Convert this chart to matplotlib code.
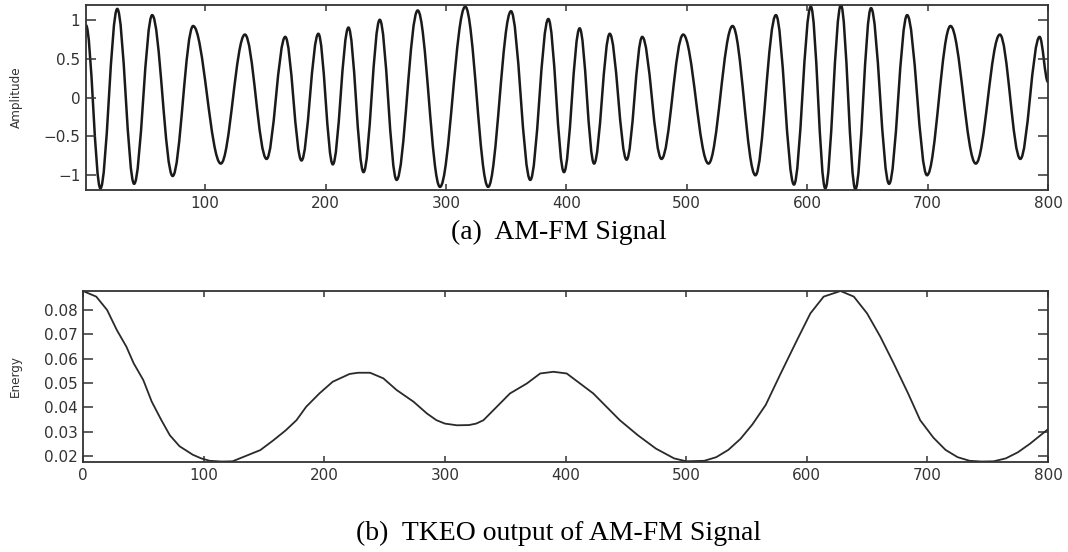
import matplotlib
matplotlib.use('Agg')
import matplotlib.pyplot as plt
from matplotlib.path import Path
from matplotlib.patches import PathPatch

# AM-FM signal: peaks and troughs (sample index, amplitude)
sig_x = [1, 13, 27, 41, 56, 73, 90, 113, 133, 151,
         166.5, 180, 194, 206, 219, 231.5, 245, 259, 276.5, 295,
         316, 335, 354, 370, 385, 398, 411, 423, 436, 450,
         463, 479, 497, 518, 538, 557, 574, 589, 603, 615,
         628, 640, 653, 668, 683, 699.5, 719, 740, 760, 777,
         793, 800]
sig_y = [0.93, -1.17, 1.14, -1.11, 1.06, -1.01, 0.92, -0.85, 0.81, -0.79,
         0.78, -0.81, 0.82, -0.86, 0.90, -0.96, 1.00, -1.06, 1.12, -1.15,
         1.17, -1.15, 1.11, -1.06, 1.01, -0.96, 0.89, -0.85, 0.82, -0.80,
         0.78, -0.79, 0.81, -0.85, 0.92, -1.00, 1.06, -1.12, 1.17, -1.17,
         1.19, -1.18, 1.15, -1.11, 1.06, -1.00, 0.92, -0.85, 0.81, -0.79,
         0.78, 0.20]

# TKEO energy output
tk_x = [0, 11, 20, 28, 36, 42, 50, 57, 65, 72,
        80, 91, 98, 105, 115, 124, 136, 147, 158, 168,
        177, 185, 196, 207, 221, 228, 238, 249, 260, 274,
        285, 293, 300, 310, 320, 326, 332, 343, 354, 368,
        379, 390, 401, 412, 423, 434, 445, 460, 475, 490,
        500, 515, 525, 535, 545, 555, 566, 578, 592, 603,
        614, 628, 639, 650, 661, 672, 684, 694, 705, 715,
        725, 735, 745, 755, 765, 775, 785, 800]
tk_y = [0.0878, 0.0855, 0.0800, 0.0718, 0.0649, 0.0581, 0.0512, 0.0423, 0.0347, 0.0285,
        0.0240, 0.0205, 0.0190, 0.0180, 0.0177, 0.0178, 0.0202, 0.0224, 0.0265, 0.0305,
        0.0347, 0.0402, 0.0457, 0.0505, 0.0537, 0.0542, 0.0542, 0.0519, 0.0471, 0.0423,
        0.0375, 0.0347, 0.0333, 0.0326, 0.0327, 0.0333, 0.0347, 0.0402, 0.0457, 0.0498,
        0.0539, 0.0546, 0.0539, 0.0498, 0.0457, 0.0402, 0.0347, 0.0285, 0.0230, 0.0190,
        0.0178, 0.0180, 0.0195, 0.0225, 0.0270, 0.0330, 0.0410, 0.0535, 0.0677, 0.0786,
        0.0855, 0.0878, 0.0855, 0.0786, 0.0690, 0.0581, 0.0457, 0.0347, 0.0275, 0.0225,
        0.0195, 0.0180, 0.0177, 0.0178, 0.0190, 0.0215, 0.0250, 0.0310]

top_xticks = [100, 200, 300, 400, 500, 600, 700, 800]
top_yticks = [-1, -0.5, 0, 0.5, 1]
top_ylabels = ['\u22121', '\u22120.5', '0', '0.5', '1']
bot_xticks = [0, 100, 200, 300, 400, 500, 600, 700, 800]
bot_yticks = [0.02, 0.03, 0.04, 0.05, 0.06, 0.07, 0.08]
bot_ylabels = ['0.02', '0.03', '0.04', '0.05', '0.06', '0.07', '0.08']

caption_a = '(a)  AM-FM Signal'
caption_b = '(b)  TKEO output of AM-FM Signal'

TXT = '#333333'
plt.rcParams['font.family'] = ['DejaVu Sans']


def smooth_path(xs, ys, k=0.363):
    # cubic segments with flat tangents at each extremum
    verts = [(xs[0], ys[0])]
    codes = [Path.MOVETO]
    for x0, y0, x1, y1 in zip(xs[:-1], ys[:-1], xs[1:], ys[1:]):
        d = x1 - x0
        verts += [(x0 + k * d, y0), (x1 - k * d, y1), (x1, y1)]
        codes += [Path.CURVE4] * 3
    return Path(verts, codes)


def style(ax):
    for s in ax.spines.values():
        s.set_color('#333333')
        s.set_linewidth(1.3)
    ax.tick_params(axis='both', direction='in', top=True, right=True,
                   colors='#333333', labelcolor=TXT, labelsize=11, width=1.1)
    ax.tick_params(axis='y', length=7.5, pad=4)
    ax.tick_params(axis='x', length=4.5, pad=4)


fig = plt.figure(figsize=(10.68, 5.52), dpi=100)

ax1 = fig.add_axes([0.0805, 0.6558, 0.9008, 0.3351])
ax1.add_patch(PathPatch(smooth_path(sig_x, sig_y), facecolor='none',
                        edgecolor='#1a1a1a', linewidth=1.8))
ax1.set_xlim(1, 800)
ax1.set_ylim(-1.19, 1.19)
ax1.set_xticks(top_xticks)
ax1.set_yticks(top_yticks, top_ylabels)
ax1.set_ylabel('Amplitude', fontsize=9.5, fontstretch='condensed', color=TXT)
ax1.yaxis.set_label_coords(-0.066, 0.5)
style(ax1)

ax2 = fig.add_axes([0.0777, 0.163, 0.9036, 0.3098])
ax2.plot(tk_x, tk_y, color='#2a2a2a', linewidth=1.3)
ax2.set_xlim(0, 800)
ax2.set_ylim(0.0175, 0.0878)
ax2.set_xticks(bot_xticks)
ax2.set_yticks(bot_yticks, bot_ylabels)
ax2.set_ylabel('Energy', fontsize=9.5, fontstretch='condensed', color=TXT)
ax2.yaxis.set_label_coords(-0.063, 0.5)
style(ax2)

fig.text(0.523, 0.5797, caption_a, ha='center', va='center',
         family=['Liberation Serif', 'DejaVu Serif'], fontsize=20, color='black')
fig.text(0.523, 0.0344, caption_b, ha='center', va='center',
         family=['Liberation Serif', 'DejaVu Serif'], fontsize=20, color='black')

fig.savefig('out.png', dpi=100, facecolor='white')
